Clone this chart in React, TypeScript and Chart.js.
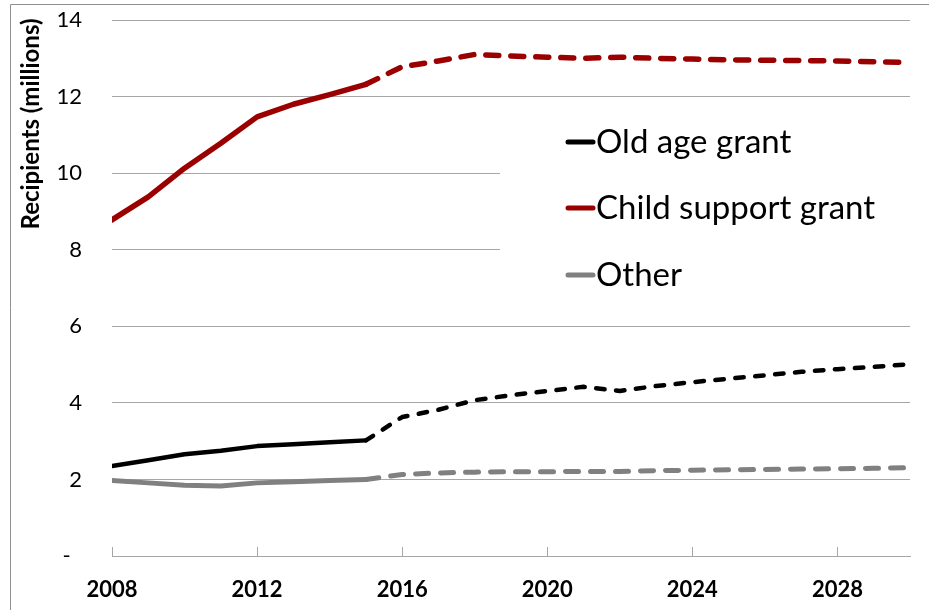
import { useEffect, useRef } from "react";
import { Chart, registerables } from "chart.js";

Chart.register(...registerables);

// Annual recipients, millions. Actuals up to 2015, projections after.
const years = [
  2008, 2009, 2010, 2011, 2012, 2013, 2014, 2015, 2016, 2017, 2018, 2019,
  2020, 2021, 2022, 2023, 2024, 2025, 2026, 2027, 2028, 2029, 2030,
];
const oldAgeGrant = [
  2.35, 2.5, 2.66, 2.75, 2.87, 2.92, 2.97, 3.02, 3.63, 3.82, 4.07, 4.2, 4.31,
  4.42, 4.31, 4.44, 4.54, 4.63, 4.72, 4.81, 4.88, 4.94, 5.01,
];
const childSupportGrant = [
  8.78, 9.38, 10.13, 10.78, 11.47, 11.8, 12.05, 12.32, 12.78, 12.93, 13.1,
  13.06, 13.03, 13.0, 13.03, 13.0, 12.98, 12.96, 12.95, 12.94, 12.93, 12.91,
  12.89,
];
const otherGrants = [
  1.97, 1.91, 1.85, 1.83, 1.91, 1.94, 1.97, 2.0, 2.13, 2.17, 2.19, 2.2, 2.2,
  2.21, 2.21, 2.23, 2.24, 2.25, 2.26, 2.27, 2.28, 2.29, 2.31,
];
const seriesNames = ["Old age grant", "Child support grant", "Other"];
const xTickYears = [2008, 2012, 2016, 2020, 2024, 2028];
const yTickValues = [0, 2, 4, 6, 8, 10, 12, 14];
const projectionFrom = 2015;
const axisTitle = "Recipients (millions)";

const FONT = "Lato, 'Open Sans', sans-serif";
const GRID = "#a6a6a6";

const toPoints = (vals: number[]) => vals.map((v, i) => ({ x: years[i], y: v }));

const projectedDash = (dash: number[]) => (ctx: any) =>
  years[ctx.p0DataIndex] >= projectionFrom ? dash : undefined;

// keep the label spacing from growing the plot margins
const clearScalePadding = (scale: any) => {
  scale.paddingTop = 0;
  scale.paddingBottom = 0;
  scale.paddingLeft = 0;
  scale.paddingRight = 0;
};

const decorations = {
  id: "decorations",
  afterDraw(chart: any) {
    const { ctx, chartArea, scales } = chart;
    ctx.save();

    // inward tick marks on the category axis
    ctx.strokeStyle = GRID;
    ctx.lineWidth = 1;
    for (const t of scales.x.ticks) {
      const px = Math.round(scales.x.getPixelForValue(t.value)) + 0.5;
      ctx.beginPath();
      ctx.moveTo(px, chartArea.bottom);
      ctx.lineTo(px, chartArea.bottom - 9);
      ctx.stroke();
    }

    // legend panel
    ctx.fillStyle = "#ffffff";
    ctx.fillRect(500, 101, 412, 222);
    const rows = [142, 208, 275];
    chart.data.datasets.forEach((ds: any, i: number) => {
      const y = rows[i];
      ctx.strokeStyle = ds.borderColor;
      ctx.lineWidth = 5;
      ctx.lineCap = "round";
      ctx.beginPath();
      ctx.moveTo(568, y);
      ctx.lineTo(593, y);
      ctx.stroke();
      ctx.fillStyle = "#000000";
      ctx.font = `33px ${FONT}`;
      ctx.textAlign = "left";
      ctx.textBaseline = "middle";
      ctx.fillText(ds.label, 596, y);
    });

    // value axis title
    ctx.save();
    ctx.translate(31, 124);
    ctx.rotate(-Math.PI / 2);
    ctx.fillStyle = "#000000";
    ctx.font = `bold 24px ${FONT}`;
    ctx.textAlign = "center";
    ctx.textBaseline = "middle";
    ctx.fillText(axisTitle, 0, 0);
    ctx.restore();

    // outer frame
    ctx.strokeStyle = "#8f8f8f";
    ctx.lineWidth = 1;
    ctx.beginPath();
    ctx.moveTo(10.5, chart.height);
    ctx.lineTo(10.5, 4.5);
    ctx.lineTo(chart.width, 4.5);
    ctx.stroke();

    ctx.restore();
  },
};

export default function App() {
  const canvasRef = useRef<HTMLCanvasElement | null>(null);

  useEffect(() => {
    const canvas = canvasRef.current;
    if (!canvas) return;
    const chart = new Chart(canvas, {
      type: "line",
      data: {
        datasets: [
          {
            label: seriesNames[0],
            data: toPoints(oldAgeGrant),
            borderColor: "#000000",
            borderWidth: 4.5,
            borderCapStyle: "round",
            borderJoinStyle: "round",
            pointRadius: 0,
            tension: 0,
            segment: { borderDash: projectedDash([8.5, 11.5]) },
          },
          {
            label: seriesNames[1],
            data: toPoints(childSupportGrant),
            borderColor: "#9b0000",
            borderWidth: 5.5,
            borderCapStyle: "round",
            borderJoinStyle: "round",
            pointRadius: 0,
            tension: 0,
            segment: { borderDash: projectedDash([13, 12]) },
          },
          {
            label: seriesNames[2],
            data: toPoints(otherGrants),
            borderColor: "#808080",
            borderWidth: 5,
            borderCapStyle: "round",
            borderJoinStyle: "round",
            pointRadius: 0,
            tension: 0,
            segment: { borderDash: projectedDash([13, 12]) },
          },
        ],
      },
      options: {
        animation: false,
        responsive: false,
        devicePixelRatio: 1,
        layout: { padding: { left: 0, top: 20, right: 19, bottom: 0 } },
        plugins: {
          legend: { display: false },
          tooltip: { enabled: false },
        },
        scales: {
          x: {
            type: "linear",
            min: years[0],
            max: years[years.length - 1],
            grid: { display: false, drawTicks: false },
            border: { display: true, color: GRID, width: 1 },
            afterBuildTicks: (scale: any) => {
              scale.ticks = xTickYears.map((v) => ({ value: v }));
            },
            afterFit: (scale: any) => {
              scale.height = 54;
              clearScalePadding(scale);
            },
            ticks: {
              includeBounds: false,
              autoSkip: false,
              maxRotation: 0,
              padding: 21,
              color: "#000000",
              font: { family: FONT, size: 22, weight: "bold" },
              callback: (v: any) => String(v),
            },
          },
          y: {
            min: 0,
            max: 14,
            afterBuildTicks: (scale: any) => {
              scale.ticks = yTickValues.map((v) => ({ value: v }));
            },
            afterFit: (scale: any) => {
              scale.width = 112;
              clearScalePadding(scale);
            },
            grid: { color: GRID, lineWidth: 1, drawTicks: false },
            border: { display: false },
            ticks: {
              padding: 30,
              color: "#000000",
              font: { family: FONT, size: 22 },
              callback: (v: any) => (v === 0 ? "-  " : String(v)),
            },
          },
        },
      },
      plugins: [decorations],
    });
    return () => chart.destroy();
  }, []);

  return (
    <div style={{ position: "fixed", left: 0, top: 0, width: 929, height: 610, background: "#ffffff" }}>
      <canvas ref={canvasRef} width={929} height={610} style={{ display: "block" }} />
    </div>
  );
}
